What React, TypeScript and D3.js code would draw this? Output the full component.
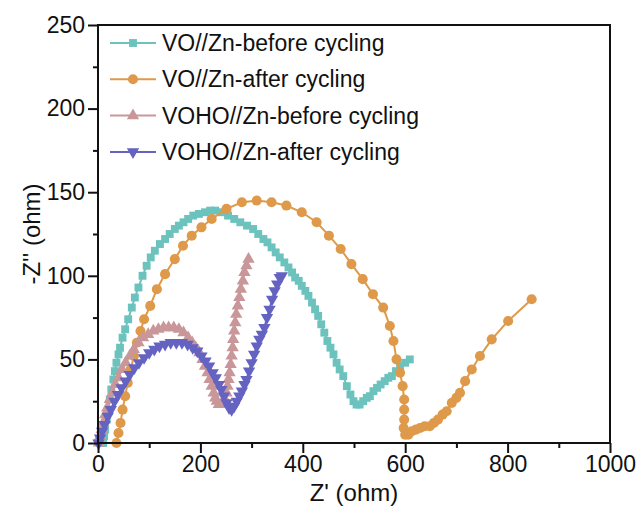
import React from 'react';
import * as d3 from 'd3';

const seriesNames = [
  'VO//Zn-before cycling',
  'VO//Zn-after cycling',
  'VOHO//Zn-before cycling',
  'VOHO//Zn-after cycling',
];
const seriesColors = ['#6cc3bd', '#de9a4a', '#c99799', '#6463c2'];

const xTicks = [0, 200, 400, 600, 800, 1000];
const yTicks = [0, 50, 100, 150, 200, 250];

// VO//Zn before cycling
const voBefore: [number, number][] = [
  [10, 0], [12, 4], [14, 8], [17, 14], [20, 20], [23, 26], [26, 32], [30, 38], [33, 43], [36, 48],
  [40, 53], [43, 57], [48, 63], [53, 68], [59, 74], [66, 81], [72, 87], [79, 93], [87, 100], [95, 106],
  [103, 111], [111, 115], [121, 119], [131, 122], [140, 125], [150, 128], [158, 130], [167, 132], [176, 134], [186, 136],
  [197, 137], [209, 138], [219, 139], [229, 139], [241, 138], [254, 136], [266, 134], [278, 132], [291, 130], [303, 128],
  [313, 125], [323, 122], [331, 120], [339, 117], [347, 114], [355, 111], [364, 108], [372, 105], [379, 102], [385, 99],
  [392, 97], [398, 94], [405, 91], [411, 88], [418, 84], [424, 80], [430, 76], [436, 71], [442, 66], [448, 61],
  [454, 57], [460, 53], [466, 48], [472, 44], [479, 40], [486, 34], [493, 29], [499, 25], [505, 23], [511, 23],
  [518, 25], [525, 27], [531, 28], [538, 31], [545, 33], [552, 35], [560, 37], [567, 39], [574, 40], [582, 43],
  [590, 46], [600, 48], [609, 50],
];

// VO//Zn after cycling
const voAfter: [number, number][] = [
  [36, 0], [40, 6], [44, 12], [48, 20], [53, 28], [58, 36], [64, 44], [70, 52], [76, 60], [83, 67],
  [90, 74], [102, 82], [115, 92], [131, 101], [150, 110], [166, 118], [183, 124], [202, 129], [222, 134], [251, 140],
  [281, 144], [310, 145], [339, 144], [368, 142], [398, 138], [427, 132], [451, 124], [474, 116], [495, 107], [517, 98],
  [537, 89], [557, 81], [570, 70], [577, 61], [583, 50], [590, 42], [595, 34], [598, 26], [598, 20], [598, 14],
  [597, 9], [600, 5], [606, 5], [613, 7], [621, 8], [629, 9], [638, 10], [648, 10], [656, 12], [664, 14],
  [673, 17], [681, 19], [691, 24], [700, 27], [707, 30], [717, 37], [730, 44], [746, 52], [769, 62], [801, 73],
  [847, 86],
];

// VOHO//Zn before cycling
const vohoBefore: [number, number][] = [
  [2, 0], [4, 4], [7, 8], [10, 12], [14, 17], [18, 21], [23, 26], [28, 30], [34, 35], [40, 39],
  [47, 44], [54, 48], [62, 52], [70, 56], [79, 60], [88, 63], [98, 65], [108, 67], [118, 68], [128, 69],
  [138, 69], [148, 69], [158, 68], [167, 66], [176, 63], [184, 60], [191, 57], [198, 54], [204, 50], [209, 46],
  [214, 42], [218, 38], [222, 34], [226, 30], [229, 27], [232, 25], [236, 23], [240, 23], [244, 24], [248, 26],
  [251, 30], [253, 34], [255, 38], [257, 42], [259, 47], [261, 52], [263, 57], [264, 62], [266, 67], [268, 72],
  [270, 77], [273, 82], [276, 87], [279, 92], [283, 97], [286, 102], [290, 106], [294, 110],
];

// VOHO//Zn after cycling
const vohoAfter: [number, number][] = [
  [1, 0], [4, 3], [8, 7], [13, 11], [19, 16], [25, 20], [32, 25], [39, 29], [46, 33], [54, 37],
  [62, 41], [71, 45], [80, 48], [90, 51], [100, 54], [110, 56], [120, 58], [131, 59], [142, 60], [153, 60],
  [164, 60], [175, 59], [185, 57], [194, 55], [202, 52], [210, 49], [217, 46], [224, 42], [230, 39], [236, 35],
  [241, 32], [246, 28], [251, 24], [256, 21], [261, 20], [266, 22], [271, 25], [276, 28], [281, 31], [286, 35],
  [290, 38], [295, 43], [300, 48], [305, 53], [310, 58], [315, 62], [320, 65], [325, 69], [330, 75], [335, 80],
  [340, 86], [345, 91], [350, 95], [355, 99], [359, 100],
];

const allSeries = [voBefore, voAfter, vohoBefore, vohoAfter];

const W = 643;
const H = 517;
const margin = { left: 98, top: 25, right: 33, bottom: 74 };
const FONT = '"Liberation Sans", Arial, Helvetica, sans-serif';

export default function App() {
  const svgRef = React.useRef<SVGSVGElement>(null);

  React.useEffect(() => {
    const svg = d3.select(svgRef.current);
    svg.selectAll('*').remove();

    const x = d3.scaleLinear().domain([0, 1000]).range([margin.left, W - margin.right]);
    const y = d3.scaleLinear().domain([0, 250]).range([H - margin.bottom, margin.top]);

    const symbols = [
      d3.symbol().type(d3.symbolSquare).size(62),
      d3.symbol().type(d3.symbolCircle).size(80),
      d3.symbol().type(d3.symbolTriangle).size(66),
      d3.symbol().type(d3.symbolTriangle).size(66),
    ];
    const rot = [0, 0, 0, 180];

    const line = d3.line<[number, number]>().x(d => x(d[0])).y(d => y(d[1]));

    allSeries.forEach((data, i) => {
      const g = svg.append('g');
      g.append('path')
        .attr('d', line(data))
        .attr('fill', 'none')
        .attr('stroke', seriesColors[i])
        .attr('stroke-width', 2);
      g.selectAll('path.m')
        .data(data)
        .join('path')
        .attr('class', 'm')
        .attr('d', symbols[i]() as string)
        .attr('transform', d => `translate(${x(d[0])},${y(d[1])}) rotate(${rot[i]})`)
        .attr('fill', seriesColors[i]);
    });

    // frame
    svg.append('rect')
      .attr('x', x(0))
      .attr('y', y(250))
      .attr('width', x(1000) - x(0))
      .attr('height', y(0) - y(250))
      .attr('fill', 'none')
      .attr('stroke', '#111')
      .attr('stroke-width', 2);

    // axes
    const xAxis = svg.append('g').attr('transform', `translate(0,${y(0)})`);
    xAxis.call(d3.axisBottom(x).tickValues(xTicks).tickSize(10).tickPadding(3).tickFormat(d3.format('d')));
    xAxis.append('g').call(
      d3.axisBottom(x).tickValues([100, 300, 500, 700, 900]).tickSize(5).tickFormat(() => '')
    );
    const yAxis = svg.append('g').attr('transform', `translate(${x(0)},0)`);
    yAxis.call(d3.axisLeft(y).tickValues(yTicks).tickSize(10).tickPadding(3).tickFormat(d3.format('d')));
    yAxis.append('g').call(
      d3.axisLeft(y).tickValues([25, 75, 125, 175, 225]).tickSize(5).tickFormat(() => '')
    );
    svg.selectAll('.domain').remove();
    svg.selectAll('.tick line').attr('stroke', '#111').attr('stroke-width', 2);
    svg.selectAll('.tick text')
      .attr('font-family', FONT)
      .attr('font-size', 23)
      .attr('fill', '#111');

    // axis titles
    svg.append('text')
      .attr('x', (x(0) + x(1000)) / 2)
      .attr('y', 501)
      .attr('text-anchor', 'middle')
      .attr('font-family', FONT)
      .attr('font-size', 24)
      .attr('fill', '#111')
      .text("Z' (ohm)");
    svg.append('text')
      .attr('transform', `translate(40,${(y(0) + y(250)) / 2}) rotate(-90)`)
      .attr('text-anchor', 'middle')
      .attr('font-family', FONT)
      .attr('font-size', 24)
      .attr('fill', '#111')
      .text("-Z'' (ohm)");

    // legend
    const legend = svg.append('g');
    seriesNames.forEach((name, i) => {
      const ly = 43 + i * 36.3;
      legend.append('line')
        .attr('x1', 110).attr('x2', 156)
        .attr('y1', ly).attr('y2', ly)
        .attr('stroke', seriesColors[i])
        .attr('stroke-width', 2);
      legend.append('path')
        .attr('d', symbols[i]() as string)
        .attr('transform', `translate(133,${ly}) rotate(${rot[i]})`)
        .attr('fill', seriesColors[i]);
      legend.append('text')
        .attr('x', 162)
        .attr('y', ly + 8)
        .attr('font-family', FONT)
        .attr('font-size', 23)
        .attr('fill', '#111')
        .text(name);
    });
  }, []);

  return (
    <svg
      ref={svgRef}
      width={W}
      height={H}
      style={{ position: 'absolute', left: 0, top: 0, background: '#fff' }}
    />
  );
}
